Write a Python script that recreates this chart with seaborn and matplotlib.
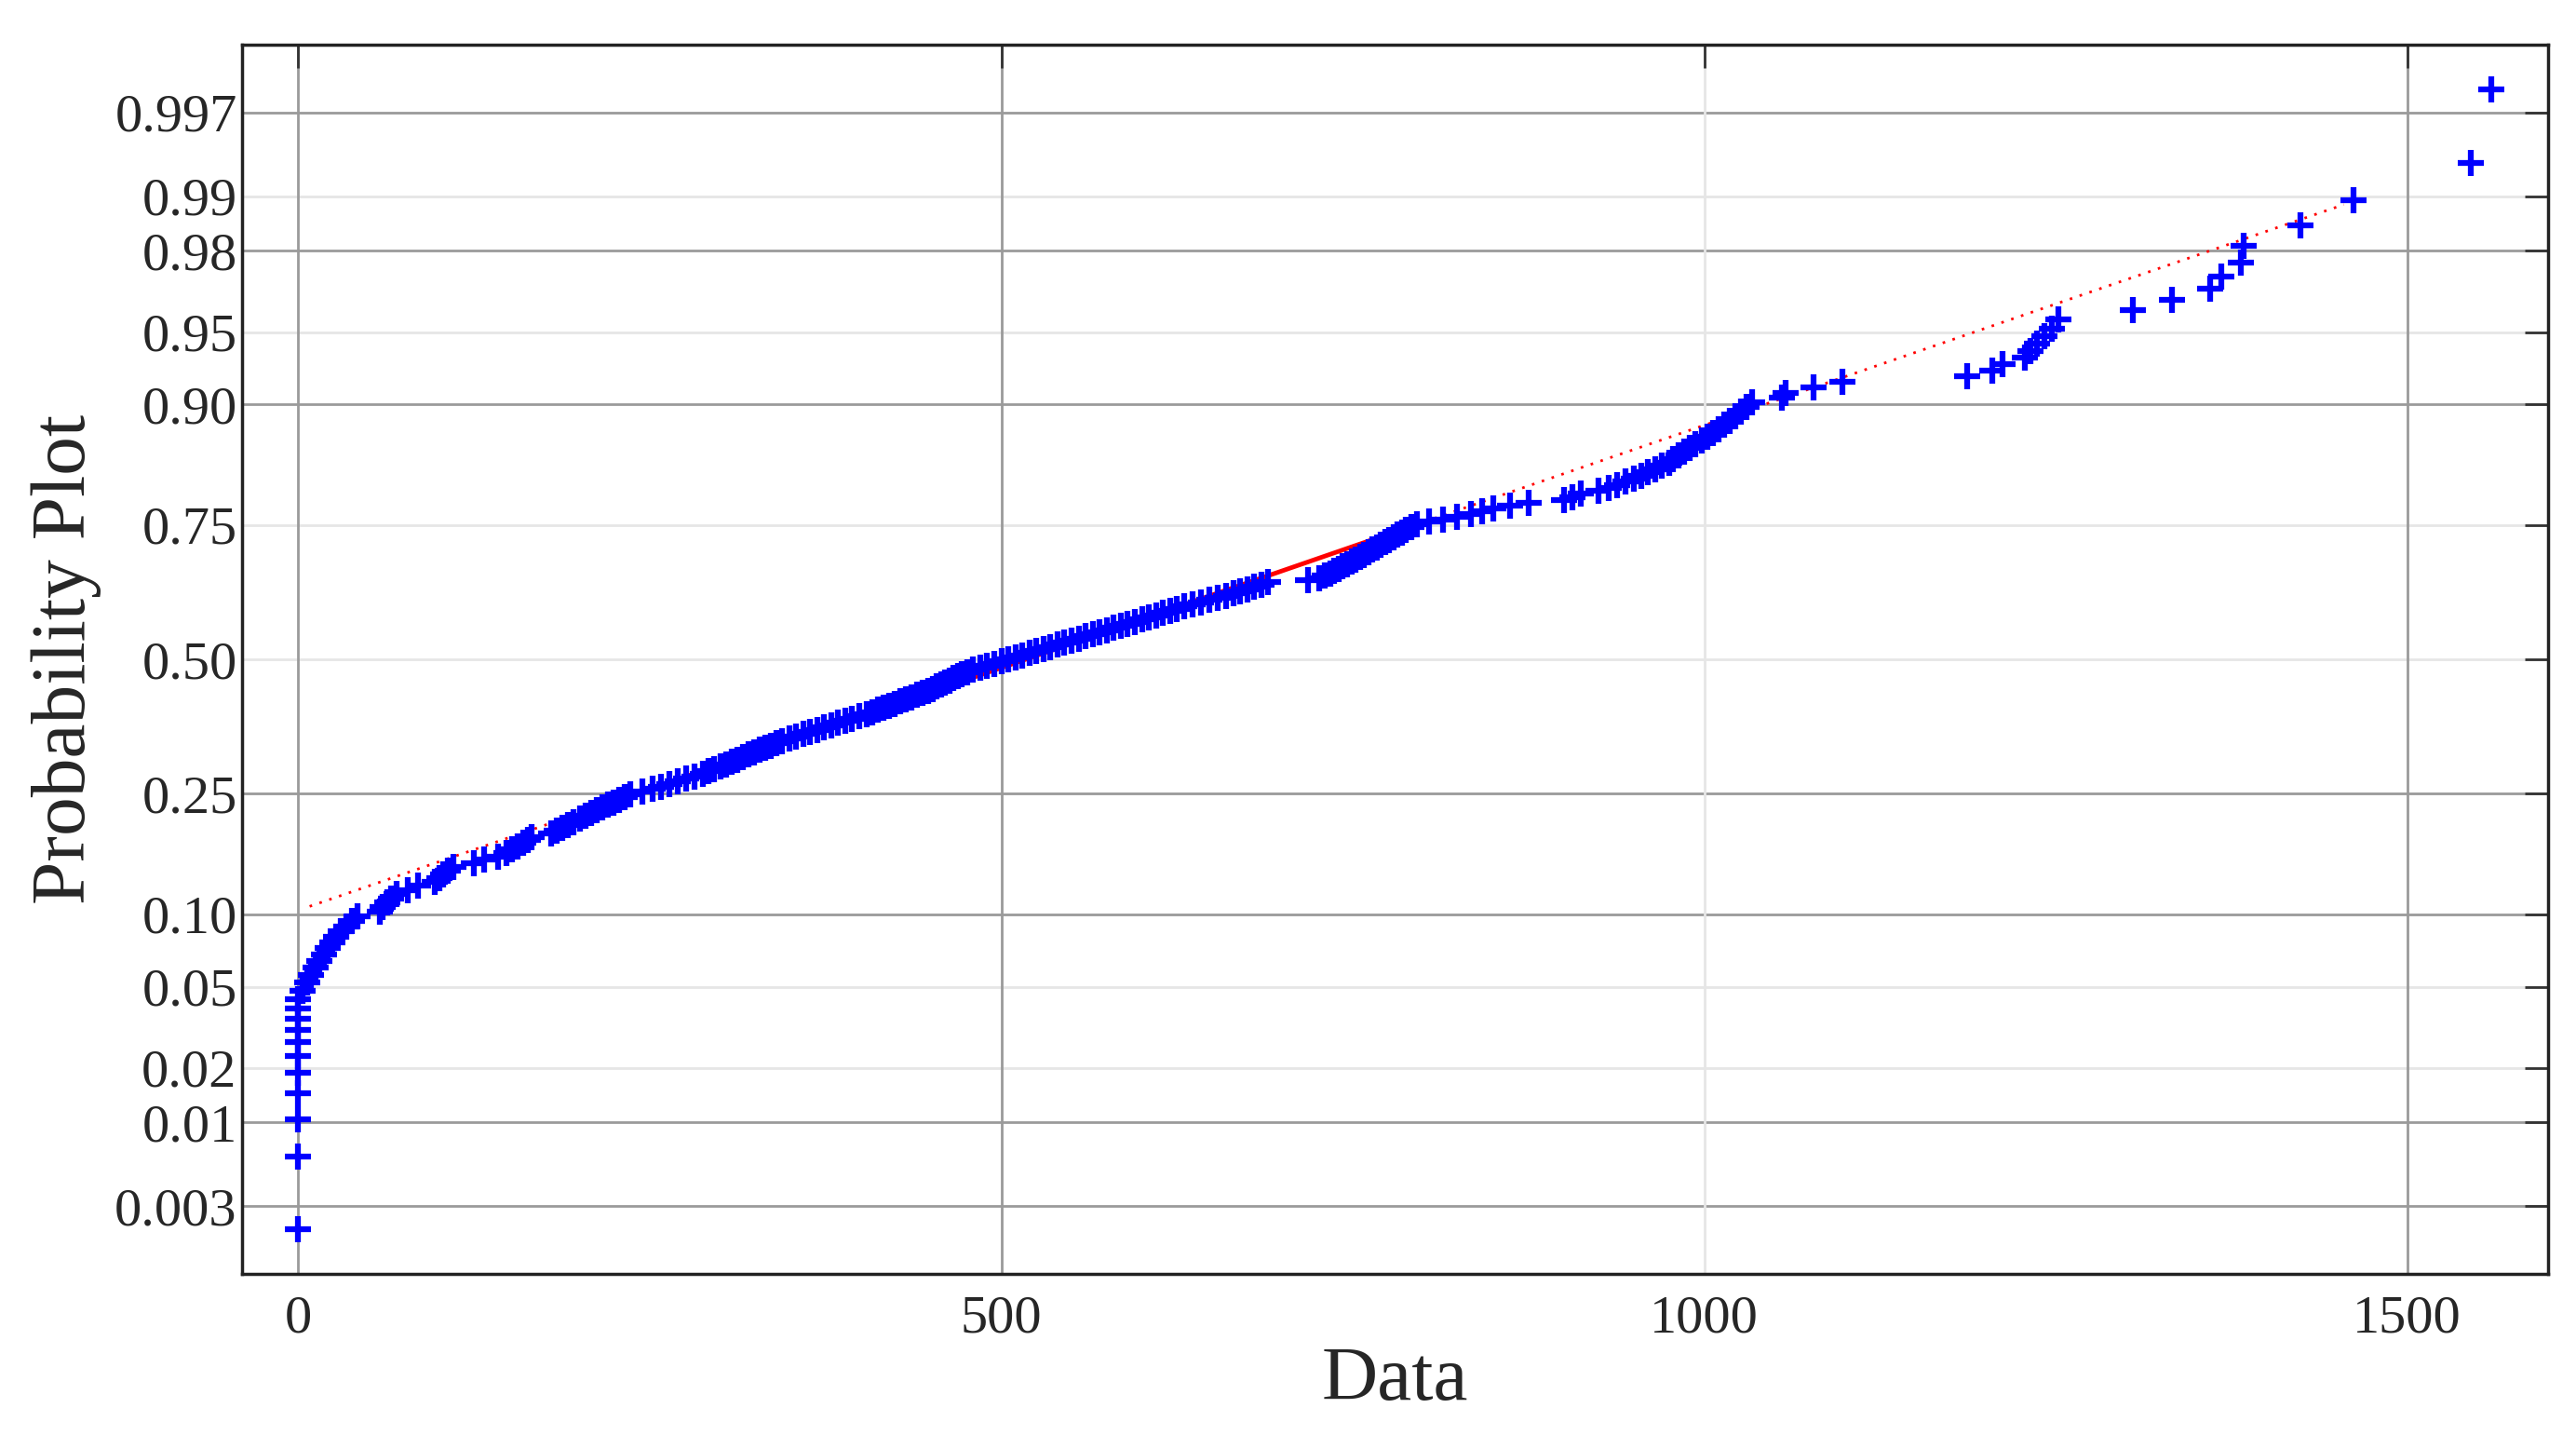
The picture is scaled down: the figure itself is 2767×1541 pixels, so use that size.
import seaborn as sns
import pandas as pd
import numpy as np
import matplotlib.pyplot as plt
from statistics import NormalDist

# sorted data values
data = [0] * 11 + [
    3, 6, 9, 12, 15, 18, 21, 24, 27, 30, 34, 38, 42,
    58, 60, 63, 66, 70, 78, 85,
    97, 100, 103, 106, 110, 125, 132,
    142, 148, 152, 156, 160, 163, 166,
    180, 184, 188, 192, 196, 200, 204, 208,
    212, 216, 220, 224, 228, 232, 236,
    245, 252, 258, 264, 270, 276, 282,
    288, 292, 296, 300, 304, 308, 312, 316, 320, 324, 328, 332,
    336, 340, 344, 349, 354, 359, 364, 369, 374, 379, 384, 389, 394, 399, 404, 408, 412,
    416, 420, 424, 428, 432, 436, 440, 444, 448, 451, 454, 457, 460, 463, 466, 469, 472, 476, 480,
    485, 490, 495, 500, 505, 510, 515, 520, 525, 530,
    535, 540, 545, 550, 555, 560, 565, 570, 575, 580, 585, 590, 595, 600,
    605, 610, 615, 620, 625, 630, 636, 642, 648, 654,
    660, 665, 670, 675, 680,
    685, 690, 718, 726, 730, 734, 737, 740, 743,
    746, 749, 752, 755, 758, 761, 764, 767, 770, 773, 776, 779, 782, 785, 788, 792, 796,
    804, 814, 824, 834, 842, 850, 862, 875,
    900, 906, 912, 925,
    932, 938, 944, 950, 955, 960, 965, 970, 975, 978, 982, 986,
    990, 994, 998, 1002, 1006, 1010, 1014,
    1018, 1022, 1026, 1030, 1034,
    1055, 1058, 1078, 1098, 1187, 1205, 1212, 1228, 1232, 1237, 1242, 1247, 1252,
    1305, 1333, 1360, 1368, 1382, 1384, 1424, 1462, 1545, 1560,
]
prob_ticks = [0.003, 0.01, 0.02, 0.05, 0.10, 0.25, 0.50, 0.75, 0.90, 0.95, 0.98, 0.99, 0.997]
prob_labels = ["0.003", "0.01", "0.02", "0.05", "0.10", "0.25", "0.50",
               "0.75", "0.90", "0.95", "0.98", "0.99", "0.997"]
x_ticks = [0, 500, 1000, 1500]

nd = NormalDist()
n = len(data)
df = pd.DataFrame({"x": sorted(data)})
df["z"] = [nd.inv_cdf((i + 0.5) / n) for i in range(n)]

# reference line through the quartiles
q1, q3 = np.percentile(df["x"], [25, 75])
slope = (nd.inv_cdf(0.75) - nd.inv_cdf(0.25)) / (q3 - q1)
zline = lambda x: nd.inv_cdf(0.25) + slope * (np.asarray(x) - q1)

sns.set_style("white")
plt.rcParams["font.family"] = ["Liberation Serif", "DejaVu Serif"]

fig = plt.figure(figsize=(27.67, 15.41), dpi=100)
ax = fig.add_axes([0.094, 0.112, 0.895, 0.857])

dark = [0.003, 0.01, 0.10, 0.25, 0.90, 0.98, 0.997]
for p in prob_ticks:
    ax.axhline(nd.inv_cdf(p), color="#9a9a9a" if p in dark else "#e6e6e6", lw=2, zorder=0)
for xv in x_ticks:
    ax.axvline(xv, color="#e6e6e6" if xv == 1000 else "#9a9a9a", lw=2, zorder=0)

xe = np.array([8, 1455])
ax.plot(xe, zline(xe), color="red", ls=(0, (1, 3)), lw=2, zorder=1)
xs = np.array([q1, q3])
ax.plot(xs, zline(xs), color="red", lw=3.5, zorder=1)

sns.scatterplot(data=df, x="x", y="z", marker="+", s=380, linewidth=4.5,
                color="blue", ax=ax, zorder=2)

ax.set_xlim(-40, 1600)
ax.set_ylim(-3.09, 3.09)
ax.set_yticks([nd.inv_cdf(p) for p in prob_ticks])
ax.set_yticklabels(prob_labels)
ax.set_xticks(x_ticks)
ax.tick_params(labelsize=42, direction="in", length=18, width=2,
               top=True, right=True, color="#333333")
ax.tick_params(axis="x", pad=16)
ax.tick_params(axis="y", pad=4)
ax.set_xlabel("Data", fontsize=60, labelpad=2)
ax.set_ylabel("Probability Plot", fontsize=60, labelpad=10)
for s in ax.spines.values():
    s.set_color("#222222")
    s.set_linewidth(2.5)

fig.savefig("out.png", dpi=100)
